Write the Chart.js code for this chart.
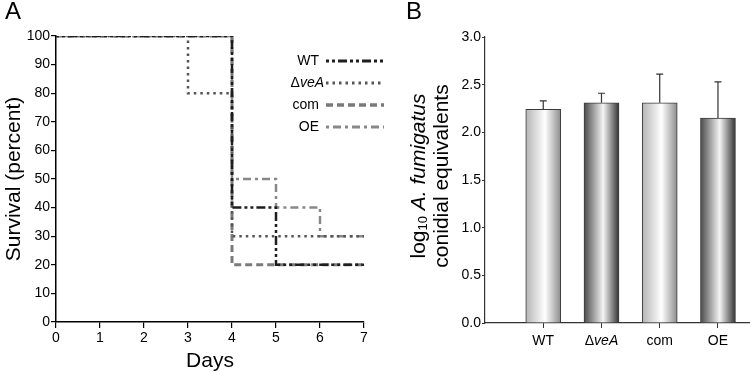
<!DOCTYPE html>
<html>
<head>
<meta charset="utf-8">
<script src="https://cdn.jsdelivr.net/npm/chart.js@4/dist/chart.umd.min.js"></script>
<style>
  body { margin: 0; background: #fff; }
  #wrap { position: relative; width: 750px; height: 372px; font-family: "Liberation Sans", Arial, sans-serif; }
  .panel { position: absolute; top: 0; }
  .letter { position: absolute; font-size: 24px; color: #000; }
</style>
</head>
<body>
<div id="wrap">
  <div class="panel" style="left:0;width:390px;height:372px"><canvas id="survChart"></canvas></div>
  <div class="panel" style="left:390px;width:360px;height:372px"><canvas id="barChart"></canvas></div>
  <div class="letter" style="left:5px;top:-3px">A</div>
  <div class="letter" style="left:406px;top:-3px">B</div>
</div>
<script>
// Panel A: survival curves (percent per day, Kaplan-Meier steps)
const days = [0, 1, 2, 3, 4, 5, 6, 7];
const survWT   = [100, 100, 100, 100, 40, 20, 20, 20];
const survVeA  = [100, 100, 100, 80, 30, 30, 30, 30];
const survCom  = [100, 100, 100, 100, 20, 20, 20, 20];
const survOE   = [100, 100, 100, 100, 50, 40, 30, 30];

// Panel B: conidial equivalents
const strains = ['WT', 'ΔveA', 'com', 'OE'];
const conidia = [2.24, 2.31, 2.31, 2.15];
const conidiaErr = [0.09, 0.10, 0.30, 0.38];
const yTicksB = [0, 0.5, 1.0, 1.5, 2.0, 2.5, 3.0];

const FONT = '"Liberation Sans", Arial, sans-serif';
Chart.defaults.font.family = FONT;
Chart.defaults.color = '#000';

const series = [
  { label: 'WT', data: survWT, color: '#1e1e1e', dash: [3, 3, 3, 3, 9, 3], width: 2.5 },
  { label: 'ΔveA', data: survVeA, color: '#555', dash: [2.5, 4], width: 2.5 },
  { label: 'com', data: survCom, color: '#7a7a7a', dash: [7, 4], width: 3 },
  { label: 'OE', data: survOE, color: '#888', dash: [3, 4, 8, 4], width: 2.5 }
];

// legend drawn by hand so that "veA" can be italic
const legendA = {
  id: 'legendA',
  afterDraw(chart) {
    const ctx = chart.ctx;
    const rows = [61, 83, 105, 127];
    ctx.save();
    series.forEach((s, i) => {
      const y = rows[i];
      ctx.font = '14px ' + FONT;
      ctx.fillStyle = '#000';
      ctx.textBaseline = 'middle';
      ctx.textAlign = 'right';
      if (s.label === 'ΔveA') {
        ctx.font = 'italic 14px ' + FONT;
        const w = ctx.measureText('veA').width;
        ctx.fillText('veA', 324, y);
        ctx.font = '14px ' + FONT;
        ctx.fillText('Δ', 324 - w, y);
      } else {
        ctx.fillText(s.label, 319, y);
      }
      ctx.strokeStyle = s.color;
      ctx.lineWidth = s.width + 0.5;
      ctx.setLineDash(s.dash);
      ctx.beginPath();
      ctx.moveTo(326, y);
      ctx.lineTo(384, y);
      ctx.stroke();
    });
    ctx.restore();
  }
};

new Chart(document.getElementById('survChart'), {
  type: 'line',
  data: {
    datasets: series.map(s => ({
      label: s.label,
      data: s.data.map((v, i) => ({ x: days[i], y: v })),
      borderColor: s.color,
      borderDash: s.dash,
      borderWidth: s.width,
      pointRadius: 0,
      stepped: true,
      fill: false
    }))
  },
  options: {
    responsive: true,
    maintainAspectRatio: false,
    animation: false,
    layout: { padding: { top: 36, right: 26, left: 0, bottom: 0 } },
    plugins: { legend: { display: false }, tooltip: { enabled: false } },
    scales: {
      x: {
        type: 'linear', min: 0, max: 7,
        afterBuildTicks: s => { s.ticks = days.map(d => ({ value: d })); },
        afterFit: s => { s.height = 50; },
        border: { color: '#000', width: 1.5 },
        grid: { drawOnChartArea: false, color: '#000', tickLength: 6, lineWidth: 1.2 },
        ticks: { font: { size: 14 }, padding: 2 },
        title: { display: true, text: 'Days', font: { size: 21 }, padding: { top: 0, bottom: -2 } }
      },
      y: {
        min: 0, max: 100,
        afterFit: s => { s.width = 56; },
        border: { color: '#000', width: 1.5 },
        grid: { drawOnChartArea: false, color: '#000', tickLength: 5, lineWidth: 1.2 },
        ticks: { stepSize: 10, font: { size: 14 }, padding: 1 },
        title: { display: true, text: 'Survival (percent)', font: { size: 21 }, padding: { top: 2, bottom: 0 } }
      }
    }
  },
  plugins: [legendA]
});

// gradient fill for the cylinder-like bars (light / dark alternating)
const BAR_W = 35;
function barGradient(context) {
  const chart = context.chart;
  const xs = chart.scales.x;
  const i = context.dataIndex;
  const fallback = i % 2 === 0 ? '#d0d0d0' : '#777';
  if (!xs || i === undefined) return fallback;
  const cx = xs.getPixelForValue(i + 1);
  if (!isFinite(cx)) return fallback;
  const g = chart.ctx.createLinearGradient(cx - BAR_W / 2, 0, cx + BAR_W / 2, 0);
  if (i % 2 === 0) {
    g.addColorStop(0, '#b4b4b4');
    g.addColorStop(0.55, '#ffffff');
    g.addColorStop(1, '#8c8c8c');
  } else {
    g.addColorStop(0, '#4a4a4a');
    g.addColorStop(0.55, '#f4f4f4');
    g.addColorStop(1, '#333333');
  }
  return g;
}

const barExtras = {
  id: 'barExtras',
  afterDatasetsDraw(chart) {
    // upper error bars
    const ctx = chart.ctx, ys = chart.scales.y;
    ctx.save();
    ctx.strokeStyle = '#333';
    ctx.lineWidth = 1.2;
    chart.getDatasetMeta(0).data.forEach((bar, i) => {
      const top = ys.getPixelForValue(conidia[i] + conidiaErr[i]);
      ctx.beginPath();
      ctx.moveTo(bar.x, bar.y);
      ctx.lineTo(bar.x, top);
      ctx.moveTo(bar.x - 3.5, top);
      ctx.lineTo(bar.x + 3.5, top);
      ctx.stroke();
    });
    ctx.restore();
  },
  afterDraw(chart) {
    const ctx = chart.ctx, xs = chart.scales.x;
    ctx.save();
    ctx.fillStyle = '#000';
    ctx.textBaseline = 'middle';
    // category labels
    strains.forEach((name, i) => {
      const x = xs.getPixelForValue(i + 1);
      const y = chart.chartArea.bottom + 18;
      if (name === 'ΔveA') {
        ctx.font = '14px ' + FONT;
        const wd = ctx.measureText('Δ').width;
        ctx.font = 'italic 14px ' + FONT;
        const wv = ctx.measureText('veA').width;
        const x0 = x - (wd + wv) / 2;
        ctx.textAlign = 'left';
        ctx.font = '14px ' + FONT;
        ctx.fillText('Δ', x0, y);
        ctx.font = 'italic 14px ' + FONT;
        ctx.fillText('veA', x0 + wd, y);
      } else {
        ctx.textAlign = 'center';
        ctx.font = '14px ' + FONT;
        ctx.fillText(name, x, y);
      }
    });
    // y axis title, two lines with italics and subscript
    const cy = (chart.chartArea.top + chart.chartArea.bottom) / 2 - 4;
    ctx.translate(29, cy);
    ctx.rotate(-Math.PI / 2);
    const parts = [
      { t: 'log', f: '21px ' + FONT, dy: 0 },
      { t: '10', f: '13px ' + FONT, dy: 4 },
      { t: ' A. fumigatus', f: 'italic 21px ' + FONT, dy: 0 }
    ];
    let total = 0;
    parts.forEach(p => { ctx.font = p.f; p.w = ctx.measureText(p.t).width; total += p.w; });
    let px = -total / 2;
    ctx.textAlign = 'left';
    parts.forEach(p => {
      ctx.font = p.f;
      ctx.fillText(p.t, px, p.dy);
      px += p.w;
    });
    ctx.font = '21px ' + FONT;
    ctx.textAlign = 'center';
    ctx.fillText('conidial equivalents', 0, 23);
    ctx.restore();
  }
};

new Chart(document.getElementById('barChart'), {
  type: 'bar',
  data: {
    datasets: [{
      data: conidia.map((v, i) => ({ x: i + 1, y: v })),
      backgroundColor: barGradient,
      borderColor: '#3a3a3a',
      borderWidth: 1,
      barThickness: BAR_W
    }]
  },
  options: {
    responsive: true,
    maintainAspectRatio: false,
    animation: false,
    layout: { padding: { top: 37, right: 0, left: 0, bottom: 0 } },
    plugins: { legend: { display: false }, tooltip: { enabled: false } },
    scales: {
      x: {
        type: 'linear', min: 0, max: 4.55, offset: false,
        afterBuildTicks: s => { s.ticks = strains.map((_, i) => ({ value: i + 1 })); },
        afterFit: s => { s.height = 49; },
        border: { color: '#333', width: 1.2 },
        grid: { drawOnChartArea: false, offset: false, color: '#333', tickLength: 5 },
        ticks: { display: false }
      },
      y: {
        min: 0, max: 3,
        afterBuildTicks: s => { s.ticks = yTicksB.map(v => ({ value: v })); },
        afterFit: s => { s.width = 95; },
        border: { color: '#333', width: 1.2 },
        grid: { drawOnChartArea: false, color: '#333', tickLength: 3 },
        ticks: { font: { size: 14 }, padding: 1, callback: v => v.toFixed(1) }
      }
    }
  },
  plugins: [barExtras]
});
</script>
</body>
</html>
